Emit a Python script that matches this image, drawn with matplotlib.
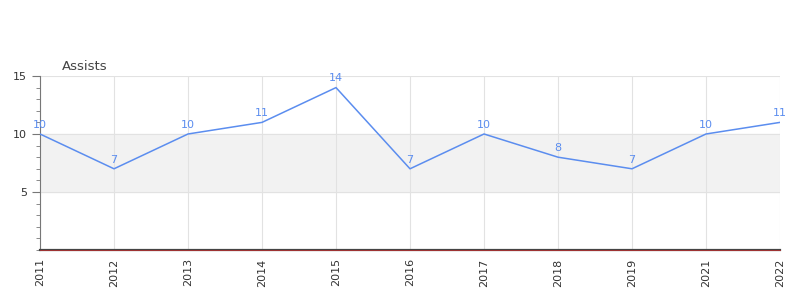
import matplotlib.pyplot as plt
from matplotlib.ticker import MultipleLocator

# 数据
years = ['2011', '2012', '2013', '2014', '2015', '2016', '2017', '2018', '2019', '2021', '2022']
assists = [10, 7, 10, 11, 14, 7, 10, 8, 7, 10, 11]

line_color = '#5b8def'

fig = plt.figure(figsize=(8, 3), dpi=100)
ax = fig.add_axes([0.05, 0.1667, 0.925, 0.58])

x = list(range(len(years)))
ax.axhspan(5, 10, color='#f2f2f2', zorder=0)
ax.plot(x, assists, color=line_color, lw=1.1, zorder=3)
for xi, v in zip(x, assists):
    ax.annotate(str(v), (xi, v), xytext=(0, 3), textcoords='offset points',
                ha='center', va='bottom', fontsize=8, color=line_color, zorder=4)

ax.set_xlim(0, len(years) - 1)
ax.set_ylim(0, 15)
ax.set_xticks(x)
ax.set_xticklabels(years, rotation=90, fontsize=8, color='#333333')
ax.set_yticks([5, 10, 15])
ax.set_yticklabels(['5', '10', '15'], fontsize=8, color='#333333')
ax.yaxis.set_minor_locator(MultipleLocator(1))
ax.tick_params(axis='y', which='major', length=6, color='#777777')
ax.tick_params(axis='y', which='minor', length=3, color='#777777')
ax.tick_params(axis='x', length=0, pad=6)

ax.grid(True, color='#e2e2e2', lw=0.8, zorder=1)
for s in ['top', 'right']:
    ax.spines[s].set_visible(False)
ax.spines['left'].set_color('#777777')
ax.spines['bottom'].set_color('#444444')
ax.spines['bottom'].set_linewidth(1.6)
ax.axhline(0, color='#b03030', lw=0.6, zorder=5, clip_on=False)

fig.text(62 / 800, 1 - 66 / 300, 'Assists', fontsize=9.5, color='#444444', ha='left', va='center')

fig.savefig('out.png', dpi=100)
